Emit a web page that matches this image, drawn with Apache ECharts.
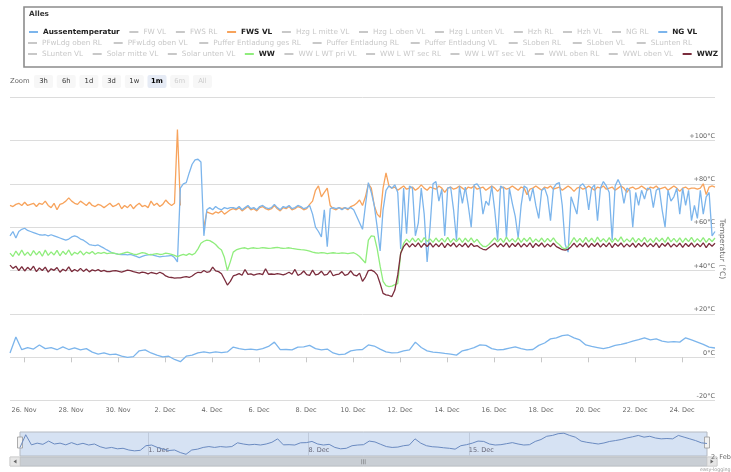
<!DOCTYPE html>
<html>
<head>
<meta charset="utf-8">
<script src="https://cdn.jsdelivr.net/npm/echarts@6/dist/echarts.min.js"></script>
<style>
  html, body { margin: 0; padding: 0; background: #fff; }
  #chart { width: 731px; height: 472px; }
</style>
</head>
<body>
<div id="chart"></div>
<script>
// ---- data ----
var startTime = '2015-11-25T09:40:00';
var rangeDays = 30;
var stepHours = 3;        // NG VL, FWS VL, WW, WWZ
var stepHoursAussen = 6;  // Aussentemperatur

var legendRow1 = ['Aussentemperatur', 'FW VL', 'FWS RL', 'FWS VL', 'Hzg L mitte VL', 'Hzg L oben VL', 'Hzg L unten VL', 'Hzh RL', 'Hzh VL', 'NG RL', 'NG VL'];
var legendRow2 = ['PFwLdg oben RL', 'PFwLdg oben VL', 'Puffer Entladung ges RL', 'Puffer Entladung RL', 'Puffer Entladung VL', 'SLoben RL', 'SLoben VL', 'SLunten RL'];
var legendRow3 = ['SLunten VL', 'Solar mitte VL', 'Solar unten VL', 'WW', 'WW L WT pri VL', 'WW L WT sec RL', 'WW L WT sec VL', 'WWL oben RL', 'WWL oben VL', 'WWZ'];

var xTickDates = ['2015-11-26', '2015-11-28', '2015-11-30', '2015-12-02', '2015-12-04', '2015-12-06', '2015-12-08',
  '2015-12-10', '2015-12-12', '2015-12-14', '2015-12-16', '2015-12-18', '2015-12-20', '2015-12-22', '2015-12-24'];
var navTickDates = ['2015-12-01', '2015-12-08', '2015-12-15'];
var yTicks = [-20, 0, 20, 40, 60, 80, 100, 120];
var zoomButtons = ['3h', '6h', '1d', '3d', '1w', '1m', '6m', 'All'];

var aussen = [
  2, 9.4, 3.5, 4.5, 3.8, 5.7, 4, 4.5, 3.5, 4.8,
  3.6, 4.4, 3.4, 4, 2.4, 1.5, 2, 1.2, 1.5, 0.5,
  0, 0.3, 3, 3.4, 2, 1, 0.2, 0.5, -1, -2,
  0.5, 1, 2, 2.5, 2, 2.5, 2.2, 2.5, 4.7, 4,
  3.5, 3.8, 3.4, 4, 5, 7, 3.5, 3.6, 3.4, 4.7,
  4.8, 5.5, 4, 3.4, 3.8, 2, 1.2, 1.5, 3, 3.4,
  3.6, 5.7, 5.2, 3.8, 2.5, 2, 2.2, 3, 3.4, 7,
  4.5, 3, 2.4, 2.2, 1.8, 1.5, 1, 3, 3.6, 4.5,
  5.7, 5.5, 4, 3.4, 3.6, 4.2, 4.8, 4, 3.4, 3.6,
  5.5, 6.6, 8.5, 9, 10, 10.3, 9, 8, 5.7, 5,
  4.5, 4, 4.6, 5.5, 6, 6.6, 7.5, 8.2, 9, 8,
  8.5, 7.5, 7, 7.2, 7, 9, 8, 7, 6, 4.7, 4.3
];

// null = hidden under NG VL in the picture
var fwsVL = [
  70, 69.5, 70.5, 71, 70, 71.5, 70, 70.5, 71, 69.5,
  71, 70.5, 72, 70, 69, 71, 68, 70.5, 71, 72,
  73.5, 72, 71, 70.5, 72, 71, 70, 71.5, 70, 69.5,
  70.5, 70, 69, 70, 71, 69.5, 70, 71, 68.5, 70,
  69, 70.5, 68.5, 70, 71, 69.5, 70, 69, 72, 70,
  71, 69.5, 70.5, 72.5, 71, 70, 71, 105, 70, null,
  null, null, null, null, null, null, 60, 67, 66.5, 66,
  67, 66.5, 67.5, 66, 67, 68, 68.5, 68, 69, 67.5,
  68.5, 69.5, 68, 68.5, 67.5, 69, 69.5, 68.5, 68, 68.5,
  70, 68.5, 67.5, 69, 68.5, 69.5, 68, 68.5, 69.5, 69,
  68, 68.5, 70.5, 72, 77, 79, 74, 76, 78, 70,
  68.5, 68, 69, 68.5, 69, 68, 69.5, 70, 71, 72.5,
  70, 74, 80, 78, 70, 66, 64.5, 78, 85, 79,
  78, 78.5, 77, 78, 79, 77.5, 78, 78.5, 77, 78,
  79.5, 78, 77, 78.5, 78, 77.5, 79, 78, 76, 78,
  78.5, 77.5, 78, 79, 78, 77, 78.5, 78, 79, 77.5,
  78, 78.5, 77, 78, 79, 78, 76.5, 78, 78.5, 77.5,
  78, 79, 78, 77, 78.5, 78, 75, 77.5, 78, 79,
  78, 77, 78.5, 78, 79, 77.5, 78, 78.5, 77, 78,
  79, 78, 76.5, 78, 78.5, 77.5, 78, 79, 78, 77,
  78.5, 78, 79, 77.5, 78, 78.5, 77, 78, 79, 78,
  76, 78, 78.5, 77.5, 78, 79, 78, 77, 78.5, 78,
  79, 77.5, 78, 78.5, 77, 78, 79, 78, 76.5, 78,
  78.5, 77.5, 78, 78, 77.5, 78, 80, 75, 78.5, 79, 78.5
];

var ngVL = [
  56, 58, 55, 58, 59, 59.5, 58.5, 58, 57.5, 57,
  56.5, 56.3, 56.5, 56, 56.5, 56, 55.5, 55, 54.5, 54,
  54.5, 55.5, 56, 55.5, 54.5, 54, 53, 52, 51.7, 51.5,
  51.8, 51, 50.3, 49.5, 48.8, 48, 47.8, 47.5, 47.3, 47.5,
  47.2, 47.5, 47, 46.5, 46, 46.5, 47, 47.2, 47.5, 47,
  46.6, 46.3, 46.5, 46.6, 46.8, 47, 46, 44, 78, 80,
  80.5, 85, 89, 91, 91.3, 90, 56, 68, 69, 68,
  69.5, 68.5, 68, 69, 68.5, 69, 69, 68.5, 69.5, 68,
  69, 70, 68.5, 69, 68, 69.5, 70, 69, 68.5, 69,
  70.5, 69, 68, 69.5, 69, 70, 68.5, 69, 70, 69.5,
  68.5, 69, 70, 66, 60, 58, 55.5, 68, 51, 68.5,
  69, 68.5, 69, 68, 69, 68.5, 69, 68, 65, 62,
  59, 70, 80.5, 76, 70, 60, 49, 68, 77, 79,
  78, 79.5, 76, 50, 78, 57, 79, 78, 56, 62,
  78, 66, 44, 60, 80, 81, 72, 77.5, 56, 78,
  78.5, 68, 54, 79, 71, 78.5, 70, 60, 79.5, 80,
  78, 66, 72, 70, 79, 68, 54, 79, 78, 55,
  78, 71, 65, 55, 70, 79, 78, 72, 78, 70,
  64, 77, 78, 74, 63, 78, 80, 80.5, 70, 52,
  48.5, 74, 70, 66, 79, 80, 78, 68, 78, 79.5,
  63, 78, 81, 79, 76, 54, 79, 82, 79, 71,
  78, 77, 60, 76, 70, 77, 73, 78, 77.5, 69,
  77, 78, 68, 60, 77, 72, 74, 78, 66, 78,
  70, 77, 63, 70, 64, 77, 66, 74, 76, 56, 58
];

var ww = [
  48, 46.5, 49, 47, 49.5, 47, 48.5, 46.8, 49.2, 47.2,
  48.8, 46.6, 49.4, 47, 48.6, 47.2, 49.3, 46.8, 48.9, 47.4,
  49.5, 47, 48.4, 47.6, 49, 47.2, 48.5, 47.8, 48.8, 47.5,
  48.3, 47.9, 48.4, 47.8, 48, 48.2, 47.8, 47.5, 47.8, 48.2,
  48.5, 48, 47.6, 47.3, 47.8, 48.3, 48, 47.5, 47.2, 47.6,
  47.8, 47.4, 47.6, 48, 47.8, 47.5, 47, 46.4, 47, 47.5,
  47, 47.8, 47.2, 48, 50, 52.6, 53.5, 54, 53.8, 53,
  52, 50.5, 49.5, 46, 40, 44, 48.5, 49.5, 50, 50.3,
  50.5, 50, 50.3, 50.5, 50.2, 50.3, 50.6, 50.4, 50.2, 50.3,
  50.5, 50.7, 50.4, 50.2, 50.3, 50.5, 50.2, 50, 49.8, 49.6,
  49.5, 49.3, 49, 48.5, 48.2, 48, 48.3, 48.1, 47.8, 48,
  48.2, 48, 47.9, 48.1, 48, 47.8, 48, 48.2, 47.5, 46.5,
  45, 43.5, 54, 56, 55.8, 50, 42, 35, 33, 32.6,
  32.8, 33.5, 34, 48, 52.5, 54.5, 53, 55, 53.2, 54.8,
  53, 55.2, 53.4, 54.6, 53, 55, 53.2, 54.8, 53.1, 55.3,
  53, 54.7, 53.3, 55, 53, 54.9, 53.2, 55.1, 53, 54.4,
  52.5, 51.2, 51, 52, 53.5, 55, 53.2, 54.8, 53, 55.4,
  53.3, 54.7, 53.1, 55.2, 53, 54.9, 53.4, 55.3, 53, 54.6,
  53.2, 55, 53.1, 54.8, 53.3, 55.1, 53, 52, 50.5, 50,
  51, 53, 55.2, 53.1, 54.8, 53, 55.3, 53.2, 54.9, 53,
  55.4, 53.3, 54.7, 53.1, 55.2, 53, 54.9, 53.4, 55.5, 53.1,
  54.6, 53.2, 55.2, 53, 54.8, 53.3, 55.3, 53.1, 54.7, 53,
  55.2, 53.4, 54.9, 53, 55.4, 53.2, 54.8, 53.1, 55.1, 53,
  54.9, 53.3, 55.3, 53.1, 54.7, 53.2, 55.2, 53, 54.8, 53.4, 55
];

var wwz = [
  42.5, 41, 42, 40, 41.8, 39.8, 41.5, 40.2, 42, 39.5,
  41.2, 40, 41.6, 39.3, 40.8, 40.1, 41.4, 39.2, 40.6, 39.8,
  41.7, 39.5, 40.5, 39.7, 41, 39.6, 40.7, 39.4, 40.3, 39.8,
  40.4, 39.6, 40.1, 39.5, 39.5, 39.8, 40, 39.6, 39.3, 39.7,
  40.2, 40, 39.5, 39.2, 38.8, 39.3, 39, 38.5, 39.1, 38.8,
  38.5, 39.2, 38.6, 37.5, 37, 36.8, 36.5, 36.6, 36.6, 37,
  37.2, 36.8, 37.5, 38.5, 39.2, 39, 40, 39.2, 39.5, 41.6,
  39.8, 39.5, 38.5, 36, 33.3, 35, 37.5, 38, 38.6, 37.8,
  40.5, 38.2, 38.5, 37.9, 38.3, 38.6, 38.1, 40.8, 38.3, 38.4,
  38.2, 38.6, 38.3, 38, 38.5, 39.2, 38.3, 40.5, 37.8, 38.4,
  39.8, 38.1, 37.8, 40.2, 38, 38.4, 39.7, 37.9, 38.2, 40,
  37.6, 38.1, 38.4, 39.5, 37.8, 38.2, 39.9, 38, 37.5, 38.8,
  35, 37, 40, 40.2, 39.5, 38, 34, 29.5, 28.8, 28.5,
  28, 31, 38, 48, 51, 52.6, 50.8, 52.4, 51, 52.8,
  50.7, 52.5, 51.1, 52.7, 50.8, 52.4, 51, 52.8, 50.6, 52.5,
  51.2, 52.7, 50.8, 52.3, 51, 52.6, 50.7, 52.5, 51.1, 51.5,
  50.5, 49.8, 49.5, 50.5, 51.5, 52.6, 50.8, 52.4, 51, 52.8,
  50.7, 52.5, 51.1, 52.7, 50.8, 52.4, 51, 52.8, 50.6, 52.5,
  51.2, 52.7, 50.8, 52.3, 51, 52.6, 51, 50.3, 49.6, 49.4,
  49.8, 51, 52.6, 50.8, 52.4, 51, 52.8, 50.7, 52.5, 51.1,
  52.7, 50.8, 52.4, 51, 52.8, 50.6, 52.5, 51.2, 52.7, 50.8,
  52.3, 51, 52.6, 50.7, 52.5, 51.1, 52.8, 50.9, 52.4, 51,
  52.7, 50.6, 52.5, 51.2, 52.8, 50.8, 52.3, 51, 52.6, 50.7,
  52.5, 51.1, 52.7, 50.8, 52.4, 51, 52.8, 50.6, 52.5, 51.2, 52.6
];

// ---- chart ----
var HOUR = 3600 * 1000;
var MONTHS = ['Jan', 'Feb', 'Mar', 'Apr', 'May', 'Jun', 'Jul', 'Aug', 'Sep', 'Oct', 'Nov', 'Dec'];
var t0 = new Date(startTime).getTime();
var tMax = t0 + rangeDays * 24 * HOUR;
function dayTime(s) { return new Date(s + 'T00:00:00').getTime(); }
function toPoints(vals, step) { return vals.map(function (v, i) { return [t0 + i * step * HOUR, v]; }); }
function dayLabel(v) { var d = new Date(v); return d.getDate() + '. ' + MONTHS[d.getMonth()]; }

var shown = {
  'Aussentemperatur': { data: toPoints(aussen, stepHoursAussen), color: '#7cb5ec' },
  'FWS VL': { data: toPoints(fwsVL, stepHours), color: '#f7a35c' },
  'NG VL': { data: toPoints(ngVL, stepHours), color: '#7cb5ec' },
  'WW': { data: toPoints(ww, stepHours), color: '#90ed7d' },
  'WWZ': { data: toPoints(wwz, stepHours), color: '#7b2d3d' }
};

var FONT = 'DejaVu Sans';
var allNames = legendRow1.concat(legendRow2, legendRow3);

var series = allNames.map(function (name) {
  var s = shown[name];
  return {
    name: name,
    type: 'line',
    xAxisIndex: 0,
    yAxisIndex: 0,
    data: s ? s.data : [],
    color: s ? s.color : '#999',
    showSymbol: false,
    connectNulls: false,
    lineStyle: { width: 1.3 },
    emphasis: { disabled: true },
    silent: true
  };
});

// navigator line
series.push({
  name: 'nav',
  type: 'line',
  xAxisIndex: 1,
  yAxisIndex: 1,
  data: toPoints(aussen, stepHoursAussen),
  color: '#6a8ac0',
  showSymbol: false,
  lineStyle: { width: 1 },
  silent: true
});

var rowLayout = [
  { names: legendRow1, left: 29, top: 27.5, gap: 9.7 },
  { names: legendRow2, left: 28, top: 38.5, gap: 11.8 },
  { names: legendRow3, left: 28, top: 49.5, gap: 9.5 }
];

var legends = rowLayout.map(function (row) {
  var selected = {};
  row.names.forEach(function (n) { selected[n] = !!shown[n]; });
  return {
    left: row.left,
    top: row.top,
    width: 700,
    padding: 0,
    orient: 'horizontal',
    itemGap: row.gap,
    itemWidth: 9,
    itemHeight: 2,
    icon: 'rect',
    inactiveColor: '#c8c8c8',
    selected: selected,
    textStyle: { fontFamily: FONT, fontSize: 7.3, lineHeight: 9, color: '#222', padding: 0 },
    data: row.names.map(function (n) {
      return shown[n] ? { name: n, textStyle: { fontWeight: 'bold', color: '#222' } } : { name: n };
    })
  };
});

var graphics = [
  { type: 'rect', silent: true, shape: { x: 24, y: 7, width: 698, height: 60 },
    style: { fill: 'none', stroke: '#8c8c8c', lineWidth: 1.6 } },
  { type: 'text', silent: true, x: 10, y: 81.5,
    style: { text: 'Zoom', fill: '#666', fontSize: 6.8, fontFamily: FONT, verticalAlign: 'middle' } },
  { type: 'text', silent: true, x: 722, y: 249, rotation: -Math.PI / 2,
    style: { text: 'Temperatur (°C)', fill: '#666', fontSize: 7.5, fontFamily: FONT, align: 'center', verticalAlign: 'middle' } },
  // navigator handles
  { type: 'rect', silent: true, shape: { x: 17.5, y: 437, width: 5, height: 11 },
    style: { fill: '#f2f2f2', stroke: '#999', lineWidth: 0.8 } },
  { type: 'rect', silent: true, shape: { x: 704.5, y: 437, width: 5, height: 11 },
    style: { fill: '#f2f2f2', stroke: '#999', lineWidth: 0.8 } },
  // scrollbar
  { type: 'rect', silent: true, shape: { x: 10, y: 457, width: 707, height: 9 },
    style: { fill: '#eeeeee', stroke: '#cccccc', lineWidth: 0.8 } },
  { type: 'rect', silent: true, shape: { x: 20, y: 457, width: 687, height: 9 },
    style: { fill: '#c9ced4', stroke: '#b8bcc2', lineWidth: 0.8 } },
  { type: 'rect', silent: true, shape: { x: 10, y: 457, width: 10, height: 9 },
    style: { fill: '#e6e6e6', stroke: '#cccccc', lineWidth: 0.8 } },
  { type: 'rect', silent: true, shape: { x: 707, y: 457, width: 10, height: 9 },
    style: { fill: '#e6e6e6', stroke: '#cccccc', lineWidth: 0.8 } },
  { type: 'polygon', silent: true, shape: { points: [[16.5, 459.5], [16.5, 463.5], [13.5, 461.5]] }, style: { fill: '#666' } },
  { type: 'polygon', silent: true, shape: { points: [[710.5, 459.5], [710.5, 463.5], [713.5, 461.5]] }, style: { fill: '#666' } },
  { type: 'text', silent: true, x: 363.5, y: 461.5,
    style: { text: '|||', fill: '#555', fontSize: 5, fontFamily: FONT, align: 'center', verticalAlign: 'middle' } },
  { type: 'text', silent: true, x: 711, y: 457,
    style: { text: '2. Feb', fill: '#666', fontSize: 6.5, fontFamily: FONT, verticalAlign: 'middle' } },
  { type: 'text', silent: true, x: 700, y: 469.5,
    style: { text: 'easy-logging', fill: '#999', fontSize: 4.8, fontFamily: FONT, verticalAlign: 'middle' } }
];

zoomButtons.forEach(function (label, k) {
  var cx = 43.5 + k * 22.7;
  var active = label === '1m';
  var disabled = label === '6m' || label === 'All';
  graphics.push({ type: 'rect', silent: true, shape: { x: cx - 9.5, y: 75, width: 19, height: 13, r: 2 },
    style: { fill: active ? '#e6ebf5' : '#f7f7f7' } });
  graphics.push({ type: 'text', silent: true, x: cx, y: 81.5,
    style: { text: label, fill: disabled ? '#cccccc' : (active ? '#000' : '#333'),
      fontSize: 6.8, fontWeight: active ? 'bold' : 'normal', fontFamily: FONT, align: 'center', verticalAlign: 'middle' } });
});

var option = {
  animation: false,
  backgroundColor: '#fff',
  textStyle: { fontFamily: FONT },
  title: {
    text: 'Alles', left: 29, top: 11, padding: 0,
    textStyle: { fontFamily: FONT, fontSize: 7.3, fontWeight: 'bold', color: '#333' }
  },
  legend: legends,
  grid: [
    { left: 10, right: 16, top: 97, bottom: 71.3 },
    { left: 20, right: 24, top: 432, height: 24, show: true,
      backgroundColor: '#d6e2f3', borderColor: '#b5bac2', borderWidth: 1 }
  ],
  xAxis: [
    {
      type: 'value', gridIndex: 0, min: t0, max: tMax,
      axisLine: { show: false },
      axisTick: { show: true, length: 5, lineStyle: { color: '#c8c8c8' },
        customValues: xTickDates.map(dayTime) },
      axisLabel: { customValues: xTickDates.map(dayTime), formatter: dayLabel,
        fontSize: 6.5, color: '#666', margin: 6, fontFamily: FONT },
      splitLine: { show: false }
    },
    {
      type: 'value', gridIndex: 1, min: t0, max: tMax,
      axisLine: { show: false },
      axisTick: { show: false, customValues: navTickDates.map(dayTime) },
      axisLabel: { customValues: navTickDates.map(dayTime), formatter: dayLabel, inside: true,
        align: 'left', fontSize: 6.5, color: '#667', margin: 2, fontFamily: FONT },
      splitLine: { show: true, lineStyle: { color: '#bfcadb', width: 1 } }
    }
  ],
  yAxis: [
    {
      type: 'value', gridIndex: 0, position: 'right',
      min: yTicks[0], max: yTicks[yTicks.length - 1], interval: 20,
      axisLine: { show: false },
      axisTick: { show: false },
      axisLabel: {
        inside: true, margin: 0, verticalAlign: 'bottom', padding: [0, 0, 1, 0],
        fontSize: 6.5, color: '#666', fontFamily: FONT,
        formatter: function (v) {
          if (v === yTicks[yTicks.length - 1]) return '';
          return (v > 0 ? '+' + v : v) + '°C';
        }
      },
      splitLine: { lineStyle: { color: '#dcdcdc', width: 1 } }
    },
    { type: 'value', gridIndex: 1, min: -3, max: 11, show: false }
  ],
  graphic: graphics,
  series: series
};

var chart = echarts.init(document.getElementById('chart'));
chart.setOption(option);
</script>
</body>
</html>
